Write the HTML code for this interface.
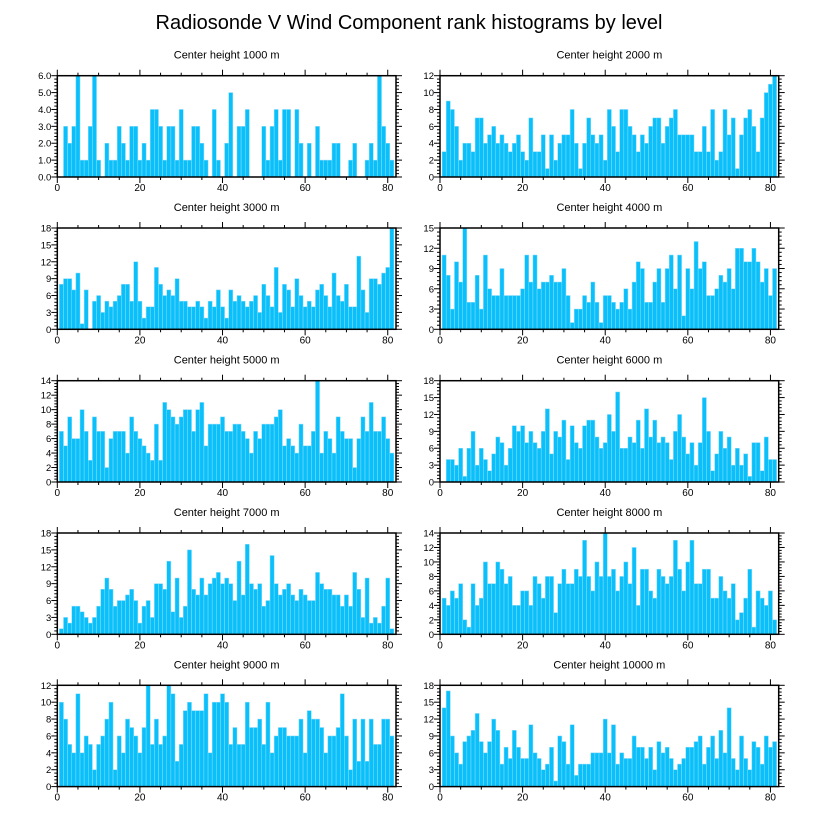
<!DOCTYPE html>
<html><head><meta charset="utf-8">
<style>
html,body{margin:0;padding:0;background:#fff;}
svg{display:block;font-family:"Liberation Sans",Arial,sans-serif;}
</style></head>
<body>
<svg id="chart" width="818" height="824" viewBox="0 0 818 824">
<text x="409" y="29" font-size="20" text-anchor="middle" fill="#000">Radiosonde V Wind Component rank histograms by level</text>
</svg>
<script>
const panelTitles = ["Center height 1000 m","Center height 2000 m","Center height 3000 m","Center height 4000 m","Center height 5000 m","Center height 6000 m","Center height 7000 m","Center height 8000 m","Center height 9000 m","Center height 10000 m"];
const yMaxes = [6,12,18,15,14,18,18,14,12,18];
const ySteps = [1,2,3,3,2,3,3,2,2,3];
const xTicks = [0,20,40,60,80];
const h1000 = [0,3,2,3,6,1,1,3,6,1,0,2,1,1,3,2,1,3,3,1,2,1,4,4,3,1,3,3,1,4,1,1,3,3,2,1,0,4,1,0,2,5,0,3,3,4,0,0,0,3,1,3,4,1,4,4,0,4,2,0,2,0,3,1,1,1,2,2,0,0,1,2,0,0,1,2,1,6,3,2,1];
const h2000 = [3,9,8,6,2,4,4,3,7,7,4,5,6,4,5,4,3,4,5,3,2,7,3,3,5,1,5,2,4,5,5,8,4,1,4,7,5,4,5,2,8,6,3,8,8,6,5,3,5,4,6,7,7,4,6,7,8,5,5,5,5,3,3,6,3,8,2,3,8,5,7,1,5,7,8,6,3,7,10,11,12];
const h3000 = [8,9,9,7,10,1,7,0,5,6,3,5,4,5,6,8,8,5,12,5,2,4,4,11,8,6,7,6,9,5,5,4,4,5,4,2,5,4,7,4,2,7,5,6,5,4,5,6,3,8,6,4,11,3,8,7,4,9,6,4,5,4,7,8,6,4,10,6,5,8,4,4,13,7,3,9,9,8,10,11,18];
const h4000 = [11,8,3,10,7,15,4,4,8,3,11,6,5,5,9,5,5,5,5,6,11,7,11,6,7,7,8,7,7,9,5,1,3,3,5,4,7,4,1,5,5,4,3,4,6,3,7,10,9,4,4,7,9,4,9,11,6,11,2,9,6,13,9,10,5,5,6,8,7,9,6,12,12,10,10,12,10,7,9,5,9];
const h5000 = [7,5,9,6,6,10,7,3,9,7,7,2,6,7,7,7,4,9,7,6,5,4,3,8,3,11,10,9,8,9,10,10,7,10,11,5,8,8,8,9,7,7,8,8,7,6,4,7,6,8,8,8,9,10,5,6,5,4,8,5,5,7,14,4,7,6,4,9,7,6,6,2,6,9,7,11,7,7,9,6,4];
const h6000 = [0,4,4,3,6,1,6,9,3,6,4,2,5,8,7,3,6,10,9,10,7,9,7,6,9,13,5,9,8,11,4,10,7,6,10,11,11,8,6,7,12,9,16,6,6,8,7,11,6,13,8,11,7,8,7,4,9,12,8,5,7,3,7,15,9,2,5,9,6,8,3,6,3,5,1,7,7,2,8,4,4];
const h7000 = [1,3,2,5,5,4,3,2,3,5,8,10,8,5,6,6,7,8,6,2,5,6,3,9,9,8,13,4,10,3,5,15,8,7,10,7,9,10,11,9,10,9,6,13,7,16,9,8,9,5,6,14,9,7,8,9,7,6,8,7,6,6,11,9,8,8,7,7,5,7,5,11,8,3,10,2,3,2,5,10,1];
const h8000 = [5,4,6,5,7,2,1,7,4,5,10,7,7,10,9,7,8,4,4,6,6,4,8,7,5,8,8,3,7,9,7,7,9,8,13,8,6,10,8,14,8,9,6,8,10,7,12,4,9,9,6,5,9,8,7,8,13,9,6,10,13,7,7,9,9,5,5,8,6,5,7,2,3,5,9,1,6,5,4,6,2];
const h9000 = [10,8,5,4,11,4,6,5,2,5,6,8,10,2,6,4,8,7,6,4,7,12,5,8,5,6,12,11,3,5,9,10,9,9,9,11,4,10,10,11,10,5,7,5,5,10,7,7,8,5,10,4,6,7,7,6,6,6,8,4,9,8,8,7,4,6,6,7,11,6,2,8,3,8,3,8,5,5,8,8,6];
const h10000 = [14,17,9,6,4,8,9,10,13,8,6,8,12,10,4,7,5,10,7,5,5,11,6,5,3,4,7,1,9,8,4,11,2,4,4,4,6,6,6,12,6,11,4,6,5,5,9,7,7,5,7,3,8,6,7,5,3,4,5,7,7,8,9,4,7,9,5,10,6,14,5,3,9,5,3,8,7,4,9,7,8];
const panelValues = [h1000,h2000,h3000,h4000,h5000,h6000,h7000,h8000,h9000,h10000];

const NS = "http://www.w3.org/2000/svg";
const svg = document.getElementById("chart");
const colLeft = [57.3, 440];
const plotW = 338.7;
const rowTop = [75.7, 228, 380.7, 533, 685.3];
const plotH = 101.3;
const xMin = 0, xMax = 82;

function mk(tag, attrs, parent) {
  const e = document.createElementNS(NS, tag);
  for (const k in attrs) e.setAttribute(k, attrs[k]);
  (parent || svg).appendChild(e);
  return e;
}

panelValues.forEach((vals, p) => {
  const left = colLeft[p % 2];
  const top = rowTop[Math.floor(p / 2)];
  const bottom = top + plotH;
  const yMax = yMaxes[p], yStep = ySteps[p];
  const xs = v => left + (v - xMin) / (xMax - xMin) * plotW;
  const ys = v => bottom - v / yMax * plotH;

  const g = mk("g", {});
  
  

  const t = mk("text", {x: left + plotW / 2, y: top - 17, "font-size": 11, "text-anchor": "middle", fill: "#000"}, g);
  t.textContent = panelTitles[p];
  
  

  vals.forEach((v, i) => {
    const c = i + 1;
    if (v <= 0) return;
    const r = mk("rect", {x: xs(c - 0.5), y: ys(v), width: xs(c + 0.5) - xs(c - 0.5), height: bottom - ys(v), fill: "#0ac0fb", stroke: "#8fdcfb", "stroke-width": 0.5}, g);
    
    
  });

  for (let v = 0; v <= 80; v += 5) {
    const major = v % 20 === 0;
    const len = major ? 6 : 3;
    mk("line", {x1: xs(v), x2: xs(v), y1: bottom, y2: bottom + len, stroke: "#000", "stroke-width": 1}, g);
    mk("line", {x1: xs(v), x2: xs(v), y1: top, y2: top - len, stroke: "#000", "stroke-width": 1}, g);
  }
  xTicks.forEach(v => {
    const lt = mk("text", {x: xs(v), y: bottom + 14, "font-size": 10, "text-anchor": "middle", fill: "#000"}, g);
    lt.textContent = String(v);
    
    
  });

  const minor = yStep / 5;
  for (let k = 0; k <= Math.round(yMax / minor); k++) {
    const v = k * minor;
    const major = k % 5 === 0;
    const len = major ? 6 : 3;
    mk("line", {x1: left, x2: left - len, y1: ys(v), y2: ys(v), stroke: "#000", "stroke-width": 1}, g);
    mk("line", {x1: left + plotW, x2: left + plotW + len, y1: ys(v), y2: ys(v), stroke: "#000", "stroke-width": 1}, g);
  }
  for (let v = 0; v <= yMax + 1e-9; v += yStep) {
    const lt = mk("text", {x: left - 6, y: ys(v) + 3.5, "font-size": 9.5, "text-anchor": "end", fill: "#000"}, g);
    lt.textContent = yMax <= 6 ? v.toFixed(1) : String(v);
    
    
  }

  const f = mk("rect", {x: left, y: top, width: plotW, height: plotH, fill: "none", stroke: "#000", "stroke-width": 1.5}, g);
  
  
});
</script>
</body></html>
